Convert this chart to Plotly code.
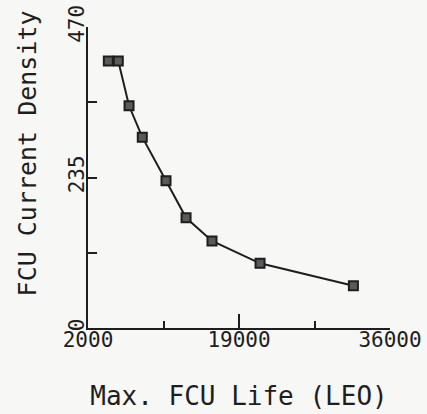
import plotly.graph_objects as go

# Data
life_leo = [4290, 5410, 6620, 8110, 10780, 13040, 15960, 21370, 31880]
current_density = [417, 417, 347, 298, 230, 172, 136, 101, 66]

x_major = [2000, 19000, 36000]
x_minor = [10500, 27500]
y_major = [0, 235, 470]
y_minor = [117.5, 352.5]

FONT = "DejaVu Sans Mono"
INK = "#1e1e1e"

fig = go.Figure()
fig.add_trace(go.Scatter(
    x=life_leo, y=current_density,
    mode="lines+markers",
    line=dict(color=INK, width=2),
    marker=dict(symbol="square", size=9, color="#5a5a5a",
                line=dict(color=INK, width=2)),
    showlegend=False,
    cliponaxis=False,
))

fig.update_layout(
    width=427, height=414,
    margin=dict(l=88, r=37, t=27, b=86),
    paper_bgcolor="#f7f7f5",
    plot_bgcolor="#f7f7f5",
    font=dict(family=FONT, color=INK),
    xaxis=dict(
        range=[2000, 36000],
        automargin=False,
        tickvals=x_major,
        ticktext=[str(v) for v in x_major],
        ticks="inside", ticklen=14, tickwidth=1.5, tickcolor=INK,
        minor=dict(tickvals=x_minor, ticks="inside", ticklen=7,
                   tickwidth=1.5, tickcolor=INK),
        showline=True, linecolor=INK, linewidth=1.5,
        showgrid=False, zeroline=False,
        tickfont=dict(family=FONT, size=21, color=INK),
        ticklabelstandoff=-8,
        title=dict(text="Max. FCU Life (LEO)",
                   font=dict(family=FONT, size=26, color=INK),
                   standoff=36),
    ),
    yaxis=dict(
        range=[0, 470],
        automargin=False,
        tickvals=y_major,
        ticktext=[str(v) for v in y_major],
        tickangle=-90,
        ticks="inside", ticklen=9, tickwidth=1.5, tickcolor=INK,
        minor=dict(tickvals=y_minor, ticks="inside", ticklen=9,
                   tickwidth=1.5, tickcolor=INK),
        showline=True, linecolor=INK, linewidth=1.5,
        showgrid=False, zeroline=False,
        tickfont=dict(family=FONT, size=21, color=INK),
        ticklabelstandoff=-6,
    ),
    annotations=[dict(
        text="FCU Current Density",
        textangle=-90,
        xref="paper", yref="paper",
        x=0, y=0.58,
        xanchor="center", yanchor="middle",
        xshift=-61,
        showarrow=False,
        font=dict(family=FONT, size=25, color=INK),
    )],
)

fig.write_html(
    "out.html",
    config={"displayModeBar": False},
    post_script="document.body.style.margin='0';"
                "document.body.style.background='#f7f7f5';",
)
